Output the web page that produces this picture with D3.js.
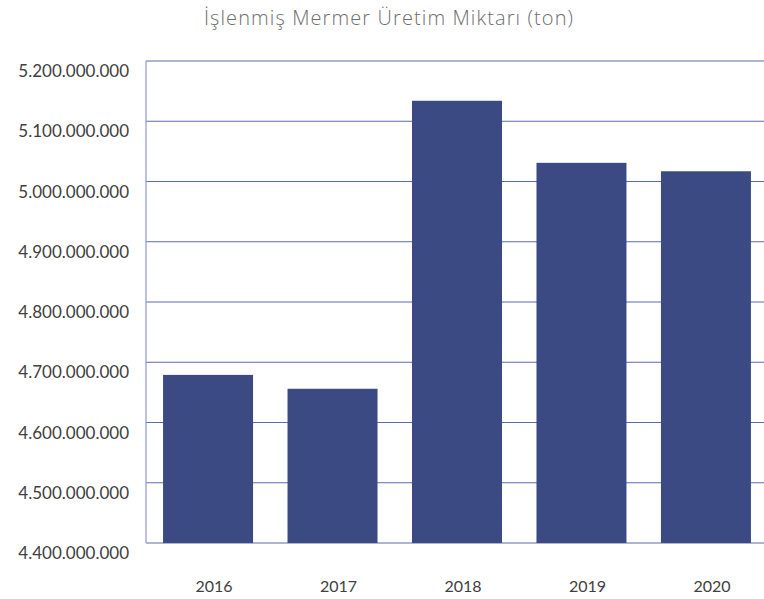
<!DOCTYPE html>
<html><head><meta charset="utf-8">
<script src="https://cdn.jsdelivr.net/npm/d3@7"></script>
<style>body{margin:0;background:#fff}</style>
</head><body>
<svg id="c" width="764" height="599"></svg>
<script>
const title = "İşlenmiş Mermer Üretim Miktarı (ton)";
const categories = ["2016","2017","2018","2019","2020"];
const values = [4679000000, 4656000000, 5134000000, 5031000000, 5017000000];
const yTicks = [4400000000,4500000000,4600000000,4700000000,4800000000,4900000000,5000000000,5100000000,5200000000];

const svg = d3.select("#c");
const pLeft = 146, pRight = 768, pTop = 61, pBottom = 543;

const x = d3.scaleBand().domain(categories).range([pLeft, pRight]).paddingInner(0.277).paddingOuter(0.137);
const y = d3.scaleLinear().domain([4400000000, 5200000000]).range([pBottom, pTop]);

const fmt = v => d3.format(",")(v).replace(/,/g, ".");

// gridlines
svg.append("g").selectAll("line").data(yTicks).join("line")
  .attr("x1", pLeft).attr("x2", 764)
  .attr("y1", d => y(d)).attr("y2", d => y(d))
  .attr("stroke", "#5b6db2").attr("stroke-width", 1.2);

// left axis line
svg.append("line").attr("x1", pLeft).attr("x2", pLeft).attr("y1", pTop).attr("y2", pBottom)
  .attr("stroke", "#8a9ad0").attr("stroke-width", 1.2);

// bars
svg.append("g").selectAll("rect").data(values).join("rect")
  .attr("x", (d,i) => x(categories[i]))
  .attr("width", x.bandwidth())
  .attr("y", d => y(d))
  .attr("height", d => pBottom - y(d))
  .attr("fill", "#3b4a82");

// y labels
svg.append("g").selectAll("text").data(yTicks).join("text")
  .attr("x", 129).attr("y", d => y(d) + 16)
  .attr("text-anchor", "end")
  .attr("font-family", "Lato, sans-serif").attr("font-size", 17)
  .attr("fill", "#404040")
  .text(d => fmt(d));

// x labels
svg.append("g").selectAll("text").data(categories).join("text")
  .attr("x", d => x(d) + x.bandwidth()/2 + 6).attr("y", 592)
  .attr("text-anchor", "middle")
  .attr("font-family", "Lato, sans-serif").attr("font-size", 16)
  .attr("fill", "#404040")
  .text(d => d);

// title
svg.append("text").attr("x", 389).attr("y", 25)
  .attr("text-anchor", "middle")
  .attr("font-family", "'Open Sans', sans-serif").attr("font-size", 20)
  .attr("font-weight", 300)
  .attr("letter-spacing", 1.1)
  .attr("fill", "#6e6e6e")
  .text(title);
</script>
</body></html>
